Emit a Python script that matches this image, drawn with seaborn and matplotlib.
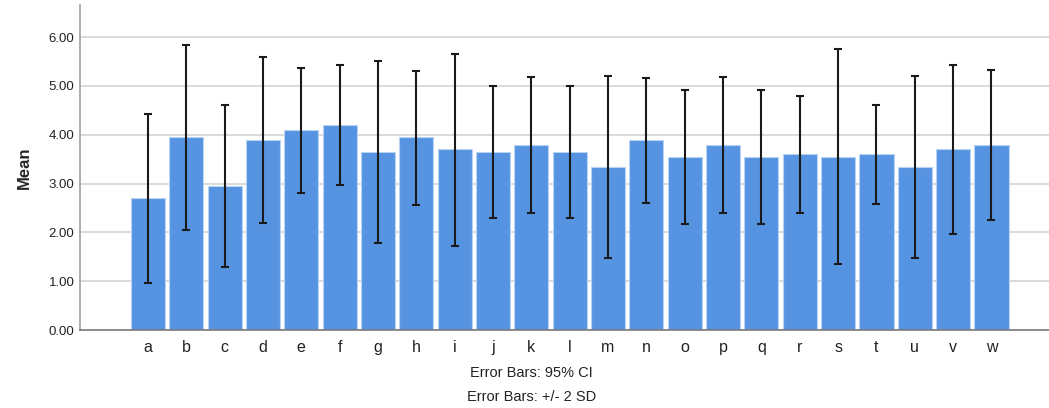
import numpy as np
import pandas as pd
import matplotlib
matplotlib.use("Agg")
import matplotlib.pyplot as plt
import seaborn as sns

# ── data ──────────────────────────────────────────────────────────────────
items = list("abcdefghijklmnopqrstuvw")
means = [2.70, 3.95, 2.95, 3.90, 4.10, 4.20, 3.65, 3.95, 3.70, 3.65, 3.80, 3.65,
         3.35, 3.90, 3.55, 3.80, 3.55, 3.60, 3.55, 3.60, 3.35, 3.70, 3.80]
err_low = [0.96, 2.05, 1.29, 2.19, 2.81, 2.97, 1.78, 2.57, 1.72, 2.30, 2.40, 2.30,
           1.48, 2.61, 2.17, 2.40, 2.17, 2.40, 1.35, 2.59, 1.48, 1.97, 2.26]
err_high = [4.42, 5.83, 4.60, 5.60, 5.37, 5.43, 5.51, 5.31, 5.65, 4.99, 5.18, 4.99,
            5.21, 5.17, 4.92, 5.18, 4.92, 4.80, 5.75, 4.60, 5.21, 5.43, 5.33]
y_ticks = [0, 1, 2, 3, 4, 5, 6]
notes = ["Error Bars: 95% CI", "Error Bars: +/- 2 SD"]

df = pd.DataFrame({"item": items, "mean": means})

sns.set_style("white")
plt.rcParams["font.family"] = ["Liberation Sans", "DejaVu Sans"]

BAR = "#5694E2"
fig = plt.figure(figsize=(10.49, 4.08), dpi=100, facecolor="white")
ax = fig.add_axes([0.0763, 0.191, 0.9237, 0.797])

sns.barplot(data=df, x="item", y="mean", color=BAR, width=0.89, saturation=1,
            edgecolor="#b9d3f3", linewidth=0.8, errorbar=None, ax=ax, zorder=2)

x = np.arange(len(items))
m = np.array(means)
yerr = np.vstack([m - np.array(err_low), np.array(err_high) - m])
ax.errorbar(x, m, yerr=yerr, fmt="none", ecolor="#1a1a1a", elinewidth=1.5,
            capsize=3, capthick=1.5, zorder=3)

ax.set_xlim(-1.77, 23.5)
ax.set_ylim(0, 6.66)
ax.set_yticks(y_ticks)
ax.set_yticklabels([f"{v:.2f}" for v in y_ticks], fontsize=9.5, color="#222222")
ax.tick_params(axis="x", labelsize=11.5, length=0, pad=7, colors="#222222")
ax.tick_params(axis="y", length=0, pad=4)
ax.yaxis.grid(True, color="#d4d4d4", linewidth=1.2, zorder=0)
ax.set_axisbelow(True)
ax.set_xlabel("")
ax.set_ylabel("Mean", fontsize=12, fontweight="bold", labelpad=12)

for side in ["top", "right"]:
    ax.spines[side].set_visible(False)
ax.spines["left"].set_color("#a0a0a0")
ax.spines["left"].set_linewidth(1.2)
ax.spines["bottom"].set_color("#7a7a7a")
ax.spines["bottom"].set_linewidth(1.2)

fig.text(0.507, 1 - 373 / 408, notes[0], ha="center", va="center", fontsize=10.5, color="#222222")
fig.text(0.507, 1 - 397 / 408, notes[1], ha="center", va="center", fontsize=10.5, color="#222222")

fig.savefig("out.png", dpi=100, facecolor="white")
